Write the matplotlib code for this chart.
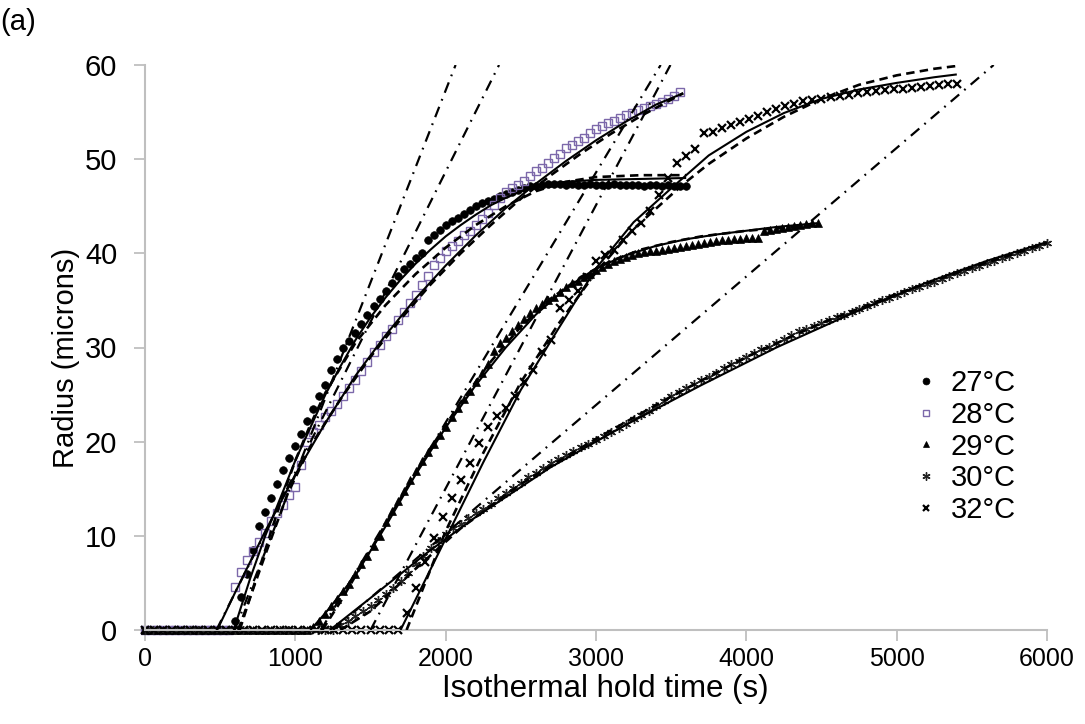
import numpy as np
import matplotlib
matplotlib.use('Agg')
import matplotlib.pyplot as plt
from matplotlib.lines import Line2D
from matplotlib import font_manager

# ---------------- data ----------------
LABELS = ['27°C', '28°C', '29°C', '30°C', '32°C']

T27 = np.arange(0, 3601, 40)
R27 = [0.0] * 15 + [
    1.0, 3.5, 6.0, 8.5, 11.0, 12.5, 14.0, 15.5, 17.0, 18.3,
    19.5, 20.8, 22.2, 23.5, 24.8, 26.0, 27.6, 28.8, 29.9, 30.7,
    31.5, 32.5, 33.5, 34.4, 35.2, 36.0, 36.8, 37.6, 38.3, 38.9,
    39.5, 40.0, 41.4, 41.9, 42.5, 43.0, 43.4, 43.8, 44.2, 44.6,
    45.0, 45.3, 45.6, 45.8, 46.1, 46.3, 46.5, 46.7, 46.9, 47.1,
    47.2, 47.3, 47.4,
    47.4, 47.4, 47.3, 47.4, 47.3, 47.3, 47.4, 47.3, 47.3, 47.3,
    47.4, 47.3, 47.3, 47.3, 47.3, 47.2, 47.3, 47.3, 47.2, 47.3,
    47.2, 47.2, 47.2]

T28 = np.arange(0, 3561, 40)
R28 = [0.0] * 14 + [
    0.0, 4.6, 6.2, 7.4, 8.4, 9.3, 10.3, 11.6, 12.4, 13.3,
    14.3, 15.2, 17.5, 20.0, 21.0, 21.8, 22.6, 23.3, 24.0, 24.8,
    25.7, 26.6, 27.5, 28.5, 29.5, 30.3, 31.2, 32.0, 32.9, 33.8,
    34.7, 35.6, 36.6, 37.6, 38.8, 39.5, 40.2, 40.8, 41.3, 41.9,
    42.4, 43.0, 43.6, 44.3, 45.1, 45.9, 46.5, 46.9, 47.3, 47.7,
    48.2, 48.7, 49.1, 49.6, 50.1, 50.6, 51.2, 51.5, 51.9, 52.3,
    52.8, 53.2, 53.5, 53.8, 54.1, 54.4, 54.7, 54.9, 55.2, 55.4,
    55.6, 55.9, 56.1, 56.4, 56.7, 57.1]

T29 = np.arange(0, 4481, 40)
R29 = [0.0] * 28 + [
    0.3, 1.0, 1.7, 2.5, 3.3, 4.1, 4.9, 5.9, 7.0, 7.9,
    8.9, 10.0, 11.5, 12.6, 13.7, 14.8, 15.9, 16.9, 17.9, 18.9,
    19.8, 20.7, 21.6, 22.6, 23.6, 24.5, 25.4, 26.3, 27.3, 28.3,
    29.6, 30.5, 31.0, 31.7, 32.4, 33.0, 33.7, 34.2, 34.6, 35.0,
    35.4, 35.9, 36.4, 36.8, 37.1, 37.5, 37.8, 38.2, 38.6, 38.9,
    39.2, 39.4, 39.6, 39.8, 40.0, 40.1, 40.2, 40.3, 40.4, 40.5,
    40.6, 40.7, 40.8, 40.9, 41.0, 41.1, 41.2, 41.3, 41.4, 41.4,
    41.5, 41.5, 41.6, 41.6, 41.6, 42.4, 42.5, 42.6, 42.7, 42.8,
    42.9, 43.0, 43.1, 43.2, 43.2]

T30 = np.arange(0, 6001, 50)
R30 = [0.0] * 26 + [
    0.5, 1.0, 1.5, 2.0, 2.6, 3.2, 3.8, 4.5, 5.2, 6.1,
    7.0, 7.9, 8.7, 9.5, 10.2, 10.8, 11.3, 11.9, 12.4, 12.9,
    13.4, 14.0, 14.5, 15.1, 15.6, 16.2, 16.7, 17.2, 17.7, 18.2,
    18.6, 19.0, 19.4, 19.8, 20.2, 20.6, 21.0, 21.5, 21.9, 22.4,
    22.8, 23.3, 23.8, 24.3, 24.8, 25.3, 25.7, 26.1, 26.5, 26.9,
    27.3, 27.8, 28.2, 28.6, 29.0, 29.4, 29.8, 30.1, 30.5, 30.9,
    31.3, 31.7, 32.0, 32.3, 32.6, 32.9, 33.2, 33.5, 33.8, 34.1,
    34.4, 34.7, 35.0, 35.3, 35.6, 35.9, 36.2, 36.4, 36.7, 37.0,
    37.3, 37.6, 37.9, 38.1, 38.4, 38.7, 39.0, 39.2, 39.5, 39.7,
    40.0, 40.3, 40.6, 40.8, 41.1]

T32 = np.arange(0, 5401, 60)
R32 = [0.0] * 29 + [
    1.8, 4.5, 7.2, 9.8, 12.0, 14.0, 15.9, 17.7, 19.9, 21.6,
    22.7, 23.6, 24.9, 26.3, 27.6, 29.5, 30.8, 34.2, 35.0, 36.0,
    37.5, 39.2, 39.8, 40.4, 41.4, 42.4, 43.2, 44.5, 46.2, 48.0,
    49.6, 50.3, 51.1, 52.8, 52.9, 53.3, 53.6, 53.9, 54.3, 54.6,
    55.0, 55.3, 55.6, 55.9, 56.2, 56.3, 56.4, 56.6, 56.7, 56.8,
    57.0, 57.1, 57.2, 57.3, 57.4, 57.5, 57.6, 57.7, 57.8, 57.9,
    58.0, 58.0]

# model curves (solid and dashed): (time, radius)
S27_T = [590, 700, 800, 900, 1000, 1100, 1200, 1300, 1400, 1500, 1600, 1700, 1800,
         1900, 2000, 2100, 2200, 2300, 2400, 2500, 2600, 2700, 2800, 3000, 3300, 3600]
S27_R = [0, 5.5, 10, 14, 18, 21.5, 25, 28, 30.8, 33.2, 35.3, 37.2, 38.9,
         40.4, 41.8, 43, 44.1, 45.1, 45.9, 46.6, 47.1, 47.4, 47.6, 47.8, 47.9, 48.0]
D27_T = [630, 700, 800, 900, 1000, 1100, 1200, 1400, 1600, 1800, 2000, 2200, 2400,
         2600, 2800, 3000, 3300, 3600]
D27_R = [0, 3.5, 8.5, 13.5, 18, 21.8, 25.2, 30.5, 34.5, 37.8, 40.6, 43, 45,
         46.6, 47.6, 48.1, 48.3, 48.3]

S28_T = [480, 600, 800, 1000, 1200, 1400, 1600, 1800, 2000, 2200, 2400, 2600, 2800,
         3000, 3200, 3400, 3580]
S28_R = [0, 4, 10.5, 16.5, 22, 27, 31.3, 35.2, 38.7, 41.9, 44.8, 47.4, 49.8,
         52, 54, 55.8, 57.0]
D28_T = [620, 700, 800, 950, 1100, 1300, 1500, 1700, 1900, 2100, 2300, 2500, 2700,
         2900, 3100, 3300, 3580]
D28_R = [0, 3.5, 8, 14.5, 19.5, 24.5, 29, 33, 36.7, 40, 43, 45.8, 48.3,
         50.6, 52.7, 54.6, 57.0]

S29_T = [1100, 1200, 1400, 1600, 1800, 2000, 2200, 2400, 2600, 2800, 3000, 3200,
         3400, 3600, 3800, 4000, 4200, 4470]
S29_R = [0, 1.8, 5.8, 11, 16.5, 21.5, 26, 30, 33.5, 36.3, 38.4, 39.8,
         40.8, 41.5, 42, 42.4, 42.8, 43.2]
D29_T = [1180, 1300, 1500, 1700, 1900, 2100, 2300, 2500, 2700, 2900, 3100, 3300,
         3500, 3700, 4000, 4470]
D29_R = [0, 3, 8.5, 14, 19.3, 24.2, 28.5, 32.2, 35.2, 37.5, 39.2, 40.4,
         41.2, 41.8, 42.4, 43.0]

S30_T = [1230, 1500, 1876, 2200, 2700, 3200, 3700, 4200, 4700, 5200, 5600, 6000]
S30_R = [0, 3.4, 8.2, 12, 17.3, 21.8, 26, 30, 33.6, 36.9, 39.2, 41.2]
D30_T = [1300, 1500, 1800, 2100, 2500, 3000, 3500, 4000, 4500, 5000, 5500, 6000]
D30_R = [0, 2, 6.5, 10.8, 15.5, 20.3, 24.8, 29, 32.6, 35.7, 38.5, 41.1]

S32_T = [1700, 2000, 2250, 2500, 2750, 3000, 3250, 3500, 3750, 4000, 4250, 4500,
         4750, 5000, 5250, 5400]
S32_R = [0, 9.7, 17.8, 25.5, 32, 38.4, 43.3, 46.9, 50.4, 52.9, 54.9, 56.4,
         57.4, 58.1, 58.7, 59.0]
D32_T = [1740, 2000, 2250, 2500, 2750, 3000, 3250, 3500, 3600, 3750, 4000, 4250,
         4500, 4750, 5000, 5250, 5400]
D32_R = [0, 10.5, 18.8, 26.3, 32.5, 38, 42.6, 46.2, 47.6, 49.5, 52.2, 54.5,
         56.4, 57.9, 58.9, 59.6, 59.9]

# initial-rate straight lines (dash-dot): start and end points
DD_T = [[596, 2066], [475, 2355], [1170, 3430], [1500, 3495], [1250, 5645]]
DD_R = [[0, 60], [0, 60], [0, 60], [0, 60], [0, 60]]

XTICKS = [0, 1000, 2000, 3000, 4000, 5000, 6000]
YTICKS = [0, 10, 20, 30, 40, 50, 60]

# ---------------- styling ----------------
names = {f.name for f in font_manager.fontManager.ttflist}
BASE = 'Liberation Sans' if 'Liberation Sans' in names else 'DejaVu Sans'
NARROW = 'Liberation Sans Narrow' if 'Liberation Sans Narrow' in names else BASE
plt.rcParams['font.family'] = [BASE, 'DejaVu Sans']

PURPLE = '#7C68AA'
AXCOL = '#BFBFBF'

fig = plt.figure(figsize=(10.85, 7.24), dpi=100)
ax = fig.add_axes([145 / 1085, 94 / 724, 902 / 1085, 565 / 724])

styles = [
    dict(marker='o', ms=5.5, mfc='black', mec='black', mew=0.5),
    dict(marker='s', ms=5.5, mfc='none', mec=PURPLE, mew=1.0),
    dict(marker='^', ms=5.5, mfc='black', mec='black', mew=0.5),
    dict(marker=(6, 2, 0), ms=6.5, mfc='none', mec='#222222', mew=1.0),
    dict(marker='x', ms=5.5, mfc='none', mec='black', mew=1.6),
]
series = [(T27, R27), (T28, R28), (T29, R29), (T30, R30), (T32, R32)]
for (t, r), st in zip(series, styles):
    ax.plot(t, r, ls='none', clip_on=False, zorder=2, **st)

for tt, rr in [(S27_T, S27_R), (S28_T, S28_R), (S29_T, S29_R), (S30_T, S30_R), (S32_T, S32_R)]:
    ax.plot(tt, rr, color='black', lw=1.5, zorder=3, solid_capstyle='butt')
for tt, rr in [(D27_T, D27_R), (D28_T, D28_R), (D29_T, D29_R), (D30_T, D30_R), (D32_T, D32_R)]:
    ax.plot(tt, rr, color='black', lw=1.9, zorder=3, ls=(0, (3.2, 2.0)))
for tt, rr in zip(DD_T, DD_R):
    ax.plot(tt, rr, color='black', lw=1.6, zorder=3, ls=(0, (5, 3, 0.8, 3)))

ax.set_xlim(0, 6000)
ax.set_ylim(0, 60)
ax.set_xticks(XTICKS)
ax.set_yticks(YTICKS)
for s in ['top', 'right']:
    ax.spines[s].set_visible(False)
for s in ['left', 'bottom']:
    ax.spines[s].set_color(AXCOL)
    ax.spines[s].set_linewidth(1.5)
ax.tick_params(axis='y', direction='out', length=8, width=1.3, color=AXCOL,
               pad=12, labelsize=21, labelcolor='black')
ax.tick_params(axis='x', direction='out', length=8, width=1.3, color=AXCOL,
               pad=4, labelsize=18, labelcolor='black')
for lab in ax.get_xticklabels():
    lab.set_fontfamily([NARROW, 'DejaVu Sans'])

ax.set_xlabel('Isothermal hold time (s)', fontsize=22.5, family=[NARROW, 'DejaVu Sans'])
ax.xaxis.set_label_coords(0.51, -0.077)
ax.set_ylabel('Radius (microns)', fontsize=21)
ax.yaxis.set_label_coords(-0.072, 0.481)

fig.text(0.0, 1 - 8 / 724, '(a)', fontsize=21, va='top', ha='left')

handles = [Line2D([], [], ls='none', **dict(st, ms=st['ms'] * 0.9)) for st in styles]
ax.legend(handles, LABELS, loc='upper left', bbox_to_anchor=(0.858, 0.462),
          frameon=False, fontsize=21, handlelength=0.5, handletextpad=0.6,
          labelspacing=0.13, borderaxespad=0, borderpad=0)

fig.savefig('out.png', dpi=100)
